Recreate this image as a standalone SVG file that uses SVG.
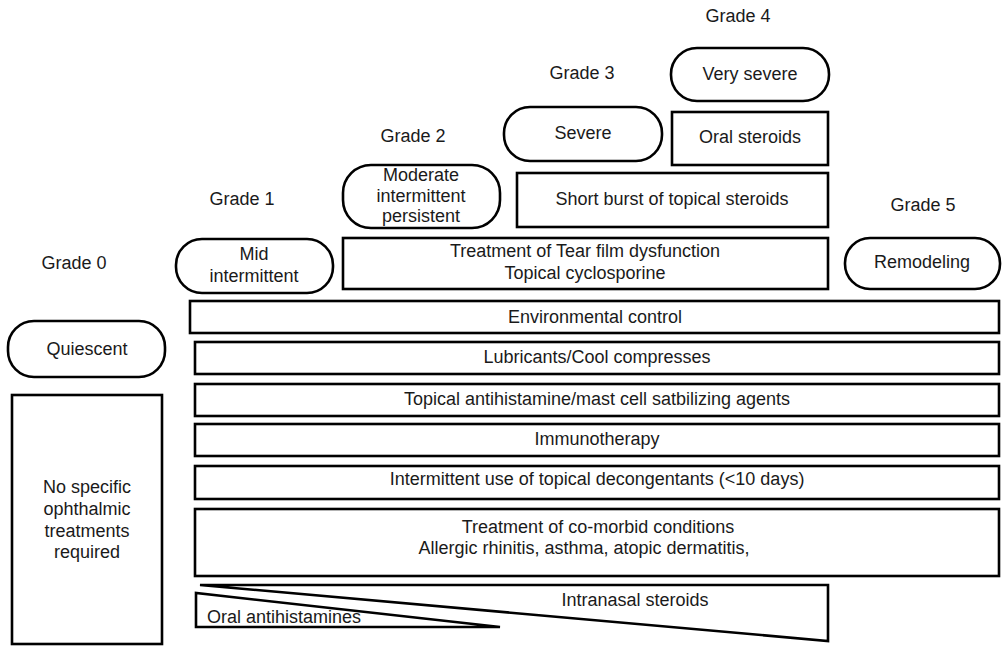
<svg xmlns="http://www.w3.org/2000/svg" width="1002" height="646" viewBox="0 0 1002 646">
<style>
text{font-family:"Liberation Sans",Arial,Helvetica,sans-serif;font-size:18px;fill:#1a1a1a;text-anchor:middle}
.box{fill:#fff;stroke:#000;stroke-width:2.6}
.pill{fill:#fff;stroke:#000;stroke-width:2.6}
.st{text-anchor:start}
</style>
<rect width="1002" height="646" fill="#fff"/>
<g id="grades">
<text x="74" y="269">Grade 0</text>
<text x="242" y="205">Grade 1</text>
<text x="413" y="142">Grade 2</text>
<text x="582" y="79">Grade 3</text>
<text x="738" y="22">Grade 4</text>
<text x="923" y="211">Grade 5</text>
</g>
<g id="very-severe"><rect class="pill" x="671" y="48" width="158" height="53" rx="26" ry="26"/><text x="750" y="80">Very severe</text></g>
<g id="oral-steroids"><rect class="box" x="672" y="112" width="156" height="53"/><text x="750" y="143">Oral steroids</text></g>
<g id="severe"><rect class="pill" x="504" y="107" width="158" height="54" rx="26" ry="26"/><text x="583" y="139">Severe</text></g>
<g id="short-burst"><rect class="box" x="517" y="173" width="311" height="54"/><text x="672" y="205">Short burst of topical steroids</text></g>
<g id="moderate"><rect class="pill" x="343" y="165" width="157" height="63" rx="28" ry="28"/><text x="421" y="181">Moderate</text><text x="421" y="202">intermittent</text><text x="421" y="222">persistent</text></g>
<g id="tear-film"><rect class="box" x="343" y="238" width="485" height="51"/><text x="585" y="257">Treatment of Tear film dysfunction</text><text x="585" y="279">Topical cyclosporine</text></g>
<g id="mid"><rect class="pill" x="176" y="239" width="157" height="54" rx="26" ry="26"/><text x="254" y="260">Mid</text><text x="254" y="282">intermittent</text></g>
<g id="remodeling"><rect class="pill" x="845" y="238" width="155" height="51" rx="25" ry="25"/><text x="922" y="268">Remodeling</text></g>
<g id="quiescent"><rect class="pill" x="8" y="321" width="157" height="56" rx="26" ry="26"/><text x="87" y="355">Quiescent</text></g>
<g id="environmental"><rect class="box" x="190" y="301" width="809" height="32"/><text x="595" y="323">Environmental control</text></g>
<g id="lubricants"><rect class="box" x="195" y="342" width="804" height="32"/><text x="597" y="363">Lubricants/Cool compresses</text></g>
<g id="topical-antihistamine"><rect class="box" x="195" y="384" width="804" height="32"/><text x="597" y="405">Topical antihistamine/mast cell satbilizing agents</text></g>
<g id="immunotherapy"><rect class="box" x="195" y="424" width="804" height="32"/><text x="597" y="445">Immunotherapy</text></g>
<g id="decongestants"><rect class="box" x="195" y="466" width="804" height="33"/><text x="597" y="485">Intermittent use of topical decongentants (&lt;10 days)</text></g>
<g id="comorbid"><rect class="box" x="195" y="509" width="804" height="67"/><text x="598" y="533">Treatment of co-morbid conditions</text><text x="584" y="554">Allergic rhinitis, asthma, atopic dermatitis,</text></g>
<g id="no-specific"><rect class="box" x="12" y="395" width="150" height="249"/><text x="87" y="493">No specific</text><text x="87" y="515">ophthalmic</text><text x="87" y="537">treatments</text><text x="87" y="558">required</text></g>
<g id="intranasal"><polygon class="box" points="200,585 828,585 828,641"/><text x="635" y="606">Intranasal steroids</text></g>
<g id="oral-antihistamines"><polygon class="box" points="196,593 196,627 500,627"/><text class="st" x="207" y="623">Oral antihistamines</text></g>
<g id="connectors"></g>
</svg>
